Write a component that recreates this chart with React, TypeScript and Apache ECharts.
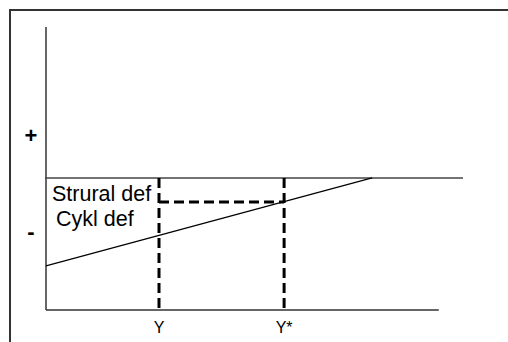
import React, { useEffect, useRef } from "react";
import * as echarts from "echarts";

// Conceptual diagram: budget balance vs output (Y, Y*)
const xRange = [0, 100];
const yRange = [-4.4, 5.03];
const xAxisEnd = [94.2];
const zeroLineX = [-0.5, 100];
const markerX = [27.1, 57.1];
const markerLabels = ["Y", "Y*"];
const curveX = [0, 78.2];
const curveY = [-2.93, 0];
const structuralLevel = [-0.8];
const signValues = [1.4, -1.8];
const signLabels = ["+", "-"];
const annotationTexts = ["Strural def", "Cykl def"];

const FONT = "'Liberation Sans', Arial, sans-serif";

export default function App() {
  const ref = useRef<HTMLDivElement>(null);
  useEffect(() => {
    if (!ref.current) return;
    const chart = echarts.init(ref.current, null, { renderer: "svg" });
    const bottom = yRange[0];
    const top = yRange[1];
    const lineBase = { type: "line", symbol: "none", silent: true, clip: false, animation: false };
    const dashed = { color: "#000", width: 3, type: [10, 5] };
    const series: any[] = [
      { ...lineBase, name: "yAxisLine", data: [[xRange[0], bottom], [xRange[0], top]], lineStyle: { color: "#000", width: 1.2 } },
      { ...lineBase, name: "xAxisLine", data: [[xRange[0], bottom], [xAxisEnd[0], bottom]], lineStyle: { color: "#333", width: 1.5 } },
      { ...lineBase, name: "zeroLine", data: [[zeroLineX[0], 0], [zeroLineX[1], 0]], lineStyle: { color: "#444", width: 1.5 } },
      { ...lineBase, name: "curve", data: curveX.map((x, i) => [x, curveY[i]]), lineStyle: { color: "#000", width: 1.2 } },
      { ...lineBase, name: "dashY", data: [[markerX[0], 0], [markerX[0], bottom]], lineStyle: dashed },
      { ...lineBase, name: "dashYStar", data: [[markerX[1], 0], [markerX[1], bottom]], lineStyle: dashed },
      { ...lineBase, name: "dashLevel", data: [[markerX[0], structuralLevel[0]], [markerX[1], structuralLevel[0]]], lineStyle: dashed },
    ];
    chart.setOption({
      animation: false,
      backgroundColor: "#fff",
      textStyle: { fontFamily: FONT },
      grid: { left: 46, right: 45, top: 27, bottom: 32, containLabel: false },
      xAxis: {
        type: "value",
        min: xRange[0],
        max: xRange[1],
        axisLine: { show: false },
        axisTick: { show: false },
        splitLine: { show: false },
        axisLabel: {
          customValues: markerX,
          formatter: (v: number) => {
            const i = markerX.findIndex((m) => Math.abs(m - v) < 1e-6);
            return i >= 0 ? markerLabels[i] : "";
          },
          color: "#000",
          fontSize: 16,
          fontFamily: FONT,
          margin: 9,
        },
      },
      yAxis: {
        type: "value",
        min: yRange[0],
        max: yRange[1],
        axisLine: { show: false },
        axisTick: { show: false },
        splitLine: { show: false },
        axisLabel: {
          customValues: signValues,
          formatter: (v: number) => {
            const i = signValues.findIndex((m) => Math.abs(m - v) < 1e-6);
            return i >= 0 ? signLabels[i] : "";
          },
          color: "#000",
          fontSize: 22,
          fontWeight: "bold",
          fontFamily: FONT,
          align: "center",
          margin: 15,
        },
      },
      graphic: [
        { type: "rect", shape: { x: 10, y: 10, width: 700, height: 500 }, style: { fill: "none", stroke: "#333", lineWidth: 2 }, silent: true },
        { type: "text", x: 52, y: 194, style: { text: annotationTexts[0], font: `21.5px ${FONT}`, fill: "#000", verticalAlign: "middle" } },
        { type: "text", x: 56, y: 219, style: { text: annotationTexts[1], font: `21.5px ${FONT}`, fill: "#000", verticalAlign: "middle" } },
      ],
      series,
    });
    return () => chart.dispose();
  }, []);
  return <div ref={ref} style={{ position: "fixed", left: 0, top: 0, width: 508, height: 342 }} />;
}
